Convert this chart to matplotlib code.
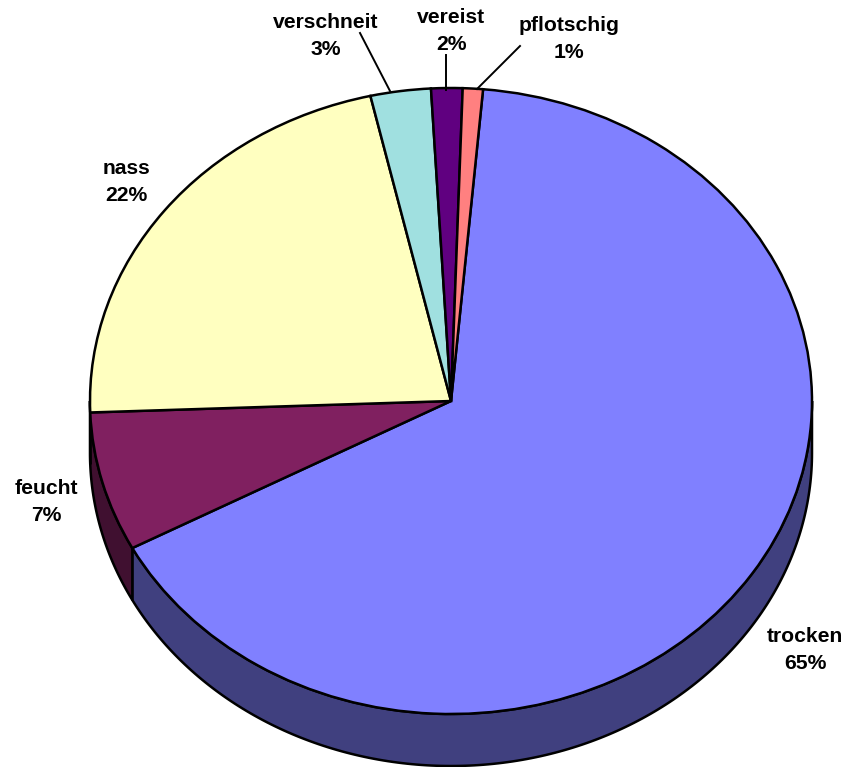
import matplotlib
matplotlib.use('Agg')
import matplotlib.pyplot as plt
import numpy as np

# clockwise from trocken, shares
names = ['trocken', 'feucht', 'nass', 'verschneit', 'vereist', 'pflotschig']
shares = [65.8, 7.2, 22.0, 2.7, 1.4, 0.9]
shown = ['65%', '7%', '22%', '3%', '2%', '1%']
top_colors = ['#8080FF', '#802060', '#FFFFC0', '#A0E0E0', '#600080', '#FF8080']
side_colors = ['#40407F', '#401030', '#80805F', '#507070', '#300040', '#7F4040']

W, H = 848, 767
cx, cy = 451, 401
rx, ry = 361, 313
depth = 52
start = 84.9  # degrees, ccw from x axis
label_xy = [(805, 650), (46, 502), (126, 182), (326, 36), (451, 31), (569, 39)]
leader = [None, None, None, ((360, 33), (390, 91)), ((446, 55), (446, 90)), ((520, 46), (477, 89))]

plt.rcParams['font.family'] = ['Liberation Sans', 'DejaVu Sans']
fig = plt.figure(figsize=(W / 100, H / 100), dpi=100)
ax = fig.add_axes([0, 0, 1, 1])

# top face, drawn in unit coordinates and stretched by the axes
wedges, _ = ax.pie(shares, colors=top_colors, startangle=start, counterclock=False,
                   radius=1, center=(0, 0), normalize=True,
                   wedgeprops={'edgecolor': 'black', 'linewidth': 1.8, 'zorder': 3})
ax.set_aspect('auto')
ax.set_xlim((0 - cx) / rx, (W - cx) / rx)
ax.set_ylim((cy - H) / ry, (cy - 0) / ry)

# side wall of the slices that reach the front half
edges = start - np.cumsum([0] + shares) * 3.6
d = depth / ry
for i in range(len(shares)):
    a0, a1 = edges[i], edges[i + 1]
    lo, hi = max(a1, -180), min(a0, 0)
    if lo < hi:
        t = np.radians(np.linspace(hi, lo, 200))
        x = np.cos(t)
        y = np.sin(t)
        ax.fill(np.r_[x, x[::-1]], np.r_[y, y[::-1] - d], facecolor=side_colors[i],
                edgecolor='black', linewidth=1.8, zorder=2)

for name, pct, (lx, ly), seg in zip(names, shown, label_xy, leader):
    ax.text((lx - cx) / rx, (cy - ly) / ry, name + '\n' + pct, ha='center', va='center',
            fontsize=15.2, fontweight='bold', linespacing=1.55, zorder=5, color='black')
    if seg is not None:
        ax.plot([(seg[0][0] - cx) / rx, (seg[1][0] - cx) / rx],
                [(cy - seg[0][1]) / ry, (cy - seg[1][1]) / ry],
                color='black', linewidth=1.4, zorder=4)

fig.savefig('out.png', dpi=100, facecolor='white')
